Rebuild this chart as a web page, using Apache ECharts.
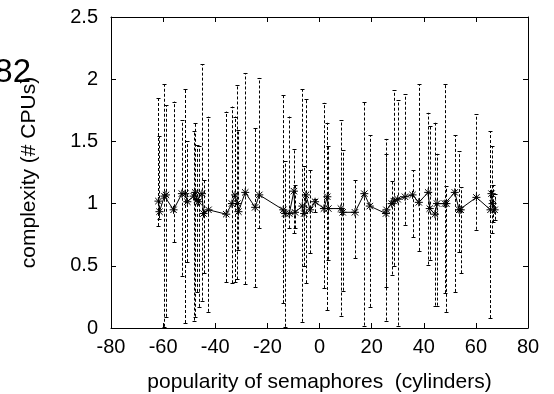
<!DOCTYPE html>
<html>
<head>
<meta charset="utf-8">
<script src="https://cdn.jsdelivr.net/npm/echarts@6/dist/echarts.min.js"></script>
<style>
html,body{margin:0;padding:0;background:#fff;}
#chart{width:554px;height:394px;}
</style>
</head>
<body>
<div id="chart"></div>
<script>
// popularity of semaphores (cylinders)
var xs = [-61.8,-61.4,-59.5,-58.9,-56.0,-52.8,-51.5,-50.7,-48.3,-47.7,-47.0,-46.4,-45.1,-44.5,-42.6,
  -35.8,-33.6,-32.4,-31.5,-31.1,-28.5,-24.7,-23.1,-13.9,-13.2,-11.6,-9.8,-9.4,-6.6,-5.9,-5.2,-3.6,-1.7,
  1.7,3.0,3.4,8.2,8.9,13.6,17.2,19.3,25.5,25.7,27.7,28.5,30.0,32.8,35.7,38.1,41.7,42.3,44.3,45.1,
  48.1,48.7,51.9,53.6,54.2,60.2,65.6,66.0,66.4,67.2];
// complexity (# CPUs)
var ys = [1.02,0.935,1.06,1.07,0.95,1.08,1.08,1.015,1.06,1.09,1.03,1.015,1.08,0.92,0.95,
  0.915,1.0,1.07,1.0,0.935,1.09,0.97,1.07,0.95,0.92,0.92,1.10,0.93,0.98,0.92,1.07,0.95,1.015,
  0.96,1.055,0.96,0.96,0.93,0.93,1.08,0.98,0.92,0.95,1.0,1.02,1.035,1.055,1.07,1.01,1.09,0.96,0.915,1.0,
  1.0,1.0,1.09,0.95,0.95,1.05,0.95,1.08,1.0,0.95];
var lows = [0.82,0.88,0.01,0.09,0.69,0.42,0.04,0.53,0.06,0.09,0.29,0.17,0.22,0.44,0.13,
  0.37,0.36,0.37,0.39,0.63,0.35,0.33,0.80,0.20,0.01,0.80,0.76,0.80,0.05,0.50,0.36,0.60,0.93,
  0.32,0.145,0.55,0.10,0.30,0.56,0.02,0.17,0.06,0.33,0.43,0.50,0.02,0.83,0.73,0.62,0.51,0.55,0.18,0.18,
  0.28,0.13,0.29,0.61,0.44,0.79,0.08,0.76,0.85,0.87];
var highs = [1.85,1.54,1.96,1.79,1.82,1.67,1.92,1.50,1.58,1.65,1.47,1.46,2.12,1.19,1.70,
  1.74,1.78,1.70,1.95,1.59,2.05,1.61,2.01,1.87,1.34,1.70,1.44,1.15,1.92,1.30,1.84,1.27,1.04,
  1.81,1.65,1.46,1.67,1.43,1.19,1.82,1.55,1.52,1.40,1.18,1.91,1.83,1.88,1.27,1.96,1.73,1.62,1.65,1.40,
  1.96,1.14,1.55,1.42,1.13,1.72,1.58,1.46,1.15,1.08];
var xTicks = {min:-80, max:80, interval:20};
var yTicks = {min:0, max:2.5, interval:0.5};

var FONT = 'Liberation Sans, Arial, Helvetica, sans-serif';
var lineData = xs.map(function(x,i){return [x, ys[i]];});
var barData = xs.map(function(x,i){return [x, lows[i], highs[i]];});

function crisp(v){return Math.round(v) + 0.5;}

var chart = echarts.init(document.getElementById('chart'), null, {renderer:'canvas'});
var axisCommon = {
  axisLine:{show:true, onZero:false, lineStyle:{color:'#000', width:1}},
  axisTick:{show:true, inside:true, length:5, lineStyle:{color:'#000', width:1}},
  splitLine:{show:false}
};
chart.setOption({
  animation:false,
  backgroundColor:'#fff',
  graphic:[{type:'text', x:31, y:89, style:{text:'82', font:'33px ' + FONT, fill:'#000', textAlign:'right', textVerticalAlign:'bottom'}}],
  grid:{left:111, right:26, top:17, bottom:66, containLabel:false, outerBoundsMode:'none'},
  xAxis:[
    Object.assign({type:'value', position:'bottom', min:xTicks.min, max:xTicks.max, interval:xTicks.interval,
      axisLabel:{color:'#000', fontSize:20, fontFamily:FONT, margin:9},
      name:'popularity of semaphores  (cylinders)', nameLocation:'middle', nameGap:44,
      nameTextStyle:{color:'#000', fontSize:21, fontFamily:FONT}}, axisCommon),
    Object.assign({type:'value', position:'top', min:xTicks.min, max:xTicks.max, interval:xTicks.interval,
      axisLabel:{show:false}}, axisCommon)
  ],
  yAxis:[
    Object.assign({type:'value', position:'left', min:yTicks.min, max:yTicks.max, interval:yTicks.interval,
      axisLabel:{color:'#000', fontSize:20, fontFamily:FONT, margin:13},
      name:'complexity (# CPUs)', nameLocation:'middle', nameGap:71, nameRotate:90,
      nameTextStyle:{color:'#000', fontSize:21, fontFamily:FONT}}, axisCommon),
    Object.assign({type:'value', position:'right', min:yTicks.min, max:yTicks.max, interval:yTicks.interval,
      axisLabel:{show:false}}, axisCommon)
  ],
  series:[
    {
      type:'custom', name:'errorbars', data:barData, z:2,
      renderItem:function(params, api){
        var lo = api.coord([api.value(0), api.value(1)]);
        var hi = api.coord([api.value(0), api.value(2)]);
        var x = crisp(lo[0]);
        var st = {stroke:'#000', lineWidth:1, lineDash:[3,2]};
        var cst = {stroke:'#000', lineWidth:1};
        return {type:'group', children:[
          {type:'line', shape:{x1:x, y1:lo[1], x2:x, y2:hi[1]}, style:st},
          {type:'line', shape:{x1:x-2, y1:crisp(lo[1]), x2:x+2, y2:crisp(lo[1])}, style:cst},
          {type:'line', shape:{x1:x-2, y1:crisp(hi[1]), x2:x+2, y2:crisp(hi[1])}, style:cst}
        ]};
      }
    },
    {
      type:'line', name:'mean', data:lineData, symbol:'none', z:3,
      lineStyle:{color:'#000', width:1}
    },
    {
      type:'custom', name:'points', data:lineData, z:4,
      renderItem:function(params, api){
        var p = api.coord([api.value(0), api.value(1)]);
        var x = p[0], y = p[1], r = 4, d = 3.2;
        var st = {stroke:'#000', lineWidth:1};
        return {type:'group', children:[
          {type:'line', shape:{x1:x-r, y1:y, x2:x+r, y2:y}, style:st},
          {type:'line', shape:{x1:x, y1:y-r, x2:x, y2:y+r}, style:st},
          {type:'line', shape:{x1:x-d, y1:y-d, x2:x+d, y2:y+d}, style:st},
          {type:'line', shape:{x1:x-d, y1:y+d, x2:x+d, y2:y-d}, style:st}
        ]};
      }
    }
  ]
});
</script>
</body>
</html>
